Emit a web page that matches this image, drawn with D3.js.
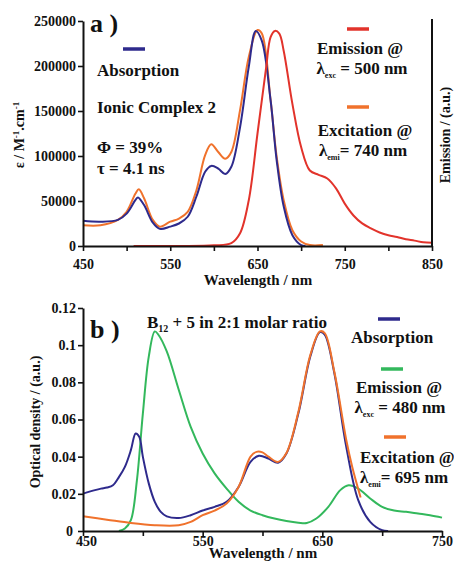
<!DOCTYPE html>
<html><head><meta charset="utf-8">
<script src="https://cdn.jsdelivr.net/npm/d3@7"></script>
<style>html,body{margin:0;padding:0;background:#fff;}</style>
</head>
<body><svg id="c" width="454" height="567" font-family="Liberation Serif" font-weight="bold"></svg>
<script>
// ---------- Panel a data ----------
const aWl = [450,470,490,500,510,513,520,530,538,550,560,570,580,590,597,605,613,620,630,640,648,655,665,672,680,690,700,705];
const aAbs = [28000,27000,29000,36000,51000,54000,45500,26000,19000,21500,25000,32500,55000,82500,89000,86000,80000,88000,132000,199000,239000,228000,162000,95000,44000,12000,1000,0];
const aExcWl = [450,470,490,500,510,514,520,530,538,550,560,570,580,590,597,605,613,620,630,640,650,655,665,672,680,690,700,710,725];
const aExc = [23000,23000,29000,38000,58000,63000,53000,29000,21500,27000,30500,38000,62000,101000,113000,104500,97000,104500,151000,210000,240000,236000,162000,99000,51000,17500,5000,1000,1000];
const aEmWl = [508,560,600,620,630,640,650,660,665,670,675,680,690,700,710,720,730,740,750,760,770,780,790,800,810,820,830,840,850];
const aEm = [0.000,0.000,0.003,0.013,0.059,0.213,0.523,0.833,0.971,1.000,0.987,0.908,0.661,0.460,0.351,0.331,0.314,0.268,0.197,0.142,0.105,0.082,0.063,0.050,0.042,0.031,0.025,0.017,0.015];
const aXTicks = [450,500,550,600,650,700,750,800,850];
const aXLabels = [450,550,650,750,850];
const aYTicks = [0,50000,100000,150000,200000,250000];

// ---------- Panel b data ----------
const bAbsWl = [450,460,465,470,475,480,485,490,494,497,500,505,510,515,520,530,540,550,560,570,580,590,597,605,613,620,630,640,648,652,660,670,680,690,700,705];
const bAbs = [0.0201,0.022,0.0228,0.0234,0.0246,0.029,0.0345,0.0435,0.0525,0.0507,0.040,0.0255,0.0157,0.0103,0.0079,0.007,0.0085,0.011,0.013,0.0157,0.0237,0.0372,0.0405,0.039,0.0367,0.0417,0.0633,0.094,0.107,0.1056,0.085,0.0453,0.0166,0.0049,0.0004,0];
const bExcWl = [450,470,490,510,530,540,550,560,570,580,590,595,600,605,613,620,630,640,648,652,660,670,675,682];
const bExc = [0.0079,0.0061,0.0043,0.0031,0.0031,0.0049,0.0085,0.011,0.0148,0.0237,0.040,0.0426,0.0423,0.040,0.0372,0.042,0.0642,0.0948,0.1074,0.1065,0.0858,0.049,0.0345,0.018];
const bEmWl = [480,485,490,495,500,505,510,513,520,530,540,550,560,570,580,590,600,610,620,630,637,645,655,665,672,680,690,700,710,720,730,740,750];
const bEm = [0,0.0013,0.0058,0.027,0.063,0.094,0.1074,0.1056,0.0966,0.076,0.056,0.0417,0.031,0.0228,0.0157,0.011,0.0085,0.0067,0.0054,0.0045,0.0043,0.0067,0.013,0.022,0.0246,0.0228,0.0175,0.013,0.011,0.0103,0.0094,0.0085,0.0072];
const bXTicks = [450,500,550,600,650,700,750];
const bXLabels = [450,550,650,750];
const bYTicks = [0,0.02,0.04,0.06,0.08,0.1,0.12];
const bYLabels = ["0","0.02","0.04","0.06","0.08","0.1","0.12"];

const BLUE = "#2e2a8c", RED = "#e2332b", ORANGE = "#f0722c", GREEN = "#33b85c";
const FONT = "Liberation Serif";

const svg = d3.select("#c");

function txt(g, x, y, size, anchor) {
  return g.append("text").attr("x", x).attr("y", y).attr("font-size", size)
    .attr("font-family", FONT).attr("font-weight", "bold").attr("fill", "#111")
    .attr("text-anchor", anchor || "start");
}
function rtxt(g, tx, ty, size) {
  return g.append("text").attr("transform", `translate(${tx},${ty}) rotate(-90)`).attr("font-size", size)
    .attr("font-family", FONT).attr("font-weight", "bold").attr("fill", "#111").attr("text-anchor", "middle");
}

function drawAxes(g, x, y, xTicks, xLabels, yTicks, yFmt, x0, y0, xLabY) {
  const xa = g.append("g").attr("transform", `translate(0,${y0})`)
    .call(d3.axisBottom(x).tickValues(xTicks).tickSize(5).tickSizeOuter(0)
      .tickFormat(d => xLabels.includes(d) ? d : ""));
  xa.attr("font-family", FONT).attr("font-weight", "bold");
  xa.select(".domain").attr("stroke", "#111").attr("stroke-width", 2);
  xa.selectAll(".tick line").attr("stroke", "#111").attr("stroke-width", 1.6);
  xa.selectAll(".tick text").attr("font-size", 14).attr("dy", null).attr("y", xLabY).attr("fill", "#111");
  const ya = g.append("g").attr("transform", `translate(${x0},0)`)
    .call(d3.axisLeft(y).tickValues(yTicks).tickSize(5).tickSizeOuter(0).tickFormat(yFmt));
  ya.attr("font-family", FONT).attr("font-weight", "bold");
  ya.select(".domain").attr("stroke", "#111").attr("stroke-width", 2);
  ya.selectAll(".tick line").attr("stroke", "#111").attr("stroke-width", 1.6);
  ya.selectAll(".tick text").attr("font-size", 14).attr("x", -7).attr("fill", "#111");
  return { xa, ya };
}

function drawLine(g, x, y, xs, ys, color) {
  const pts = xs.map((d, i) => [d, ys[i]]);
  g.append("path").datum(pts)
    .attr("fill", "none").attr("stroke", color).attr("stroke-width", 2)
    .attr("stroke-linejoin", "round")
    .attr("d", d3.line().x(d => x(d[0])).y(d => y(d[1])).curve(d3.curveCatmullRom.alpha(0.5)));
}

function legendLine(g, cx, cy, color) {
  g.append("line").attr("x1", cx - 11).attr("x2", cx + 11).attr("y1", cy).attr("y2", cy)
    .attr("stroke", color).attr("stroke-width", 3.5);
}

function lambda(g, x, y, size, anchor, sub, rest) {
  const t = txt(g, x, y, size, anchor);
  t.append("tspan").text("λ");
  t.append("tspan").attr("font-size", 8).attr("dy", 4).text(sub);
  t.append("tspan").attr("dy", -4).text(rest);
  return t;
}

// ================= Panel a =================
{
  const g = svg.append("g");
  const x0 = 83, x1 = 432, yb = 246, yt = 21;
  const x = d3.scaleLinear().domain([450, 850]).range([x0, x1]);
  const y = d3.scaleLinear().domain([0, 250000]).range([yb, yt]);
  const yR = d3.scaleLinear().domain([0, 250000 / 239000]).range([yb, yt]);

  drawLine(g, x, y, aExcWl, aExc, ORANGE);
  drawLine(g, x, y, aWl, aAbs, BLUE);
  drawLine(g, x, yR, aEmWl, aEm, RED);

  drawAxes(g, x, y, aXTicks, aXLabels, aYTicks, d => d, x0, yb, 23);
  g.append("line").attr("x1", x1).attr("x2", x1).attr("y1", yb).attr("y2", yt - 2)
    .attr("stroke", "#111").attr("stroke-width", 2);

  txt(g, 258, 285, 15, "middle").text("Wavelength / nm");
  const yl = rtxt(g, 24, 135, 14);
  yl.append("tspan").text("ε / M");
  yl.append("tspan").attr("font-size", 9).attr("dy", -5).text("-1");
  yl.append("tspan").attr("dy", 5).text(".cm");
  yl.append("tspan").attr("font-size", 9).attr("dy", -5).text("-1");
  rtxt(g, 450, 135, 14).text("Emission / (a.u.)");

  txt(g, 90, 32, 26).text("a )");
  legendLine(g, 134, 49, BLUE);
  txt(g, 97, 76, 17).text("Absorption");
  txt(g, 97, 113, 17).text("Ionic Complex 2");
  txt(g, 97, 153, 17).text("Φ = 39%");
  txt(g, 97, 174, 17).text("τ = 4.1 ns");

  legendLine(g, 358, 29, RED);
  txt(g, 360, 54, 17, "middle").text("Emission @");
  lambda(g, 362, 74, 17, "middle", "exc", " = 500 nm");
  legendLine(g, 358, 107, ORANGE);
  txt(g, 365, 136, 17, "middle").text("Excitation @");
  lambda(g, 363, 156, 17, "middle", "emi", "= 740 nm");
}

// ================= Panel b =================
{
  const g = svg.append("g");
  const x0 = 83, x1 = 442, yb = 531, yt = 308;
  const x = d3.scaleLinear().domain([450, 750]).range([x0, x1]);
  const y = d3.scaleLinear().domain([0, 0.12]).range([yb, yt]);

  drawLine(g, x, y, bEmWl, bEm, GREEN);
  drawLine(g, x, y, bAbsWl, bAbs, BLUE);
  drawLine(g, x, y, bExcWl, bExc, ORANGE);

  const ax = drawAxes(g, x, y, bXTicks, bXLabels, bYTicks, (d, i) => bYLabels[i], x0, yb, 15);
  ax.ya.selectAll(".tick text").filter(d => d === 0).attr("x", -10);
  ax.xa.selectAll(".tick text").filter(d => d === 450).attr("dx", 3);

  txt(g, 263, 558, 15, "middle").text("Wavelength / nm");
  rtxt(g, 40, 422, 14).text("Optical density / (a.u.)");

  txt(g, 90, 338, 26).text("b )");
  const tt = txt(g, 147, 328, 17);
  tt.append("tspan").text("B");
  tt.append("tspan").attr("font-size", 10).attr("dy", 4).text("12");
  tt.append("tspan").attr("dy", -4).text(" + 5 in 2:1 molar ratio");

  legendLine(g, 389, 319, BLUE);
  txt(g, 392, 343, 17, "middle").text("Absorption");
  legendLine(g, 392, 369, GREEN);
  txt(g, 399, 393, 17, "middle").text("Emission @");
  lambda(g, 400, 413, 17, "middle", "exc", " = 480 nm");
  legendLine(g, 395, 437, ORANGE);
  txt(g, 360, 463, 17).text("Excitation @");
  lambda(g, 360, 483, 17, "start", "emi", "= 695 nm");
}
</script></body></html>
